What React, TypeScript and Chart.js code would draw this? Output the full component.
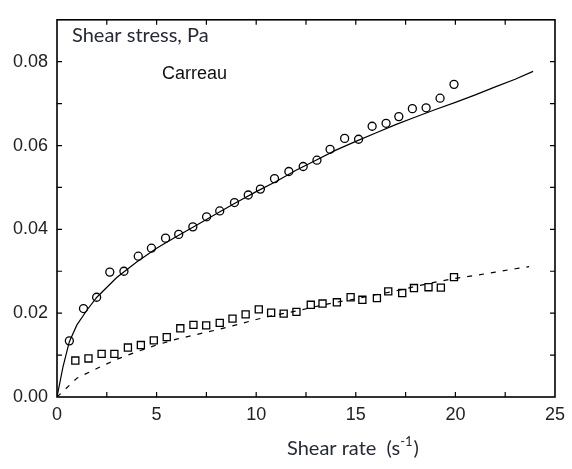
import React, { useEffect, useRef } from 'react';
import { Chart, registerables } from 'chart.js';

Chart.register(...registerables);

// Measured shear stress (circles)
const circleX = [0.62, 1.33, 1.99, 2.65, 3.36, 4.08, 4.74, 5.45, 6.11, 6.82, 7.51, 8.17, 8.91, 9.6, 10.21, 10.92, 11.64, 12.36, 13.05, 13.71, 14.44, 15.14, 15.82, 16.52, 17.16, 17.84, 18.53, 19.23, 19.93];
const circleY = [0.0134, 0.0211, 0.0238, 0.0298, 0.03, 0.0336, 0.0355, 0.0379, 0.0388, 0.0406, 0.043, 0.0444, 0.0464, 0.0482, 0.0496, 0.0521, 0.0538, 0.055, 0.0565, 0.0591, 0.0617, 0.0615, 0.0646, 0.0653, 0.0669, 0.0688, 0.069, 0.0713, 0.0746];

// Measured shear stress (squares)
const squareX = [0.92, 1.58, 2.24, 2.88, 3.56, 4.21, 4.86, 5.51, 6.19, 6.85, 7.49, 8.17, 8.81, 9.47, 10.13, 10.75, 11.38, 12.02, 12.74, 13.33, 14.05, 14.74, 15.33, 16.06, 16.63, 17.33, 17.92, 18.65, 19.27, 19.93];
const squareY = [0.0087, 0.0092, 0.0103, 0.0103, 0.0118, 0.0124, 0.0135, 0.0143, 0.0164, 0.0172, 0.0171, 0.0177, 0.0187, 0.0197, 0.0209, 0.0201, 0.0199, 0.0203, 0.022, 0.0223, 0.0226, 0.0238, 0.0232, 0.0236, 0.0252, 0.0248, 0.026, 0.0262, 0.0261, 0.0286];

// Carreau fit (solid line)
const carreauX = [0, 0.3, 0.62, 1, 1.5, 2, 3, 4, 5, 6, 7, 8, 9, 10, 11, 12, 13, 14, 15, 16, 17, 18, 19, 20, 21, 22, 23, 23.9];
const carreauY = [0, 0.0072, 0.0132, 0.0172, 0.0207, 0.0238, 0.0285, 0.0322, 0.0355, 0.0383, 0.041, 0.0437, 0.0464, 0.049, 0.0514, 0.0541, 0.0565, 0.0589, 0.061, 0.063, 0.065, 0.0668, 0.0686, 0.0703, 0.0721, 0.074, 0.0758, 0.0777];

// Carreau fit (dashed line)
const dashedX = [0, 1, 2, 3, 4, 5, 6, 7, 8, 9, 10, 11, 12, 13, 14, 15, 16, 17, 18, 19, 20, 21, 22, 23, 23.7];
const dashedY = [0, 0.0045, 0.0068, 0.009, 0.0108, 0.0124, 0.0138, 0.0149, 0.016, 0.0172, 0.0185, 0.0196, 0.0205, 0.0216, 0.0226, 0.0234, 0.0244, 0.0253, 0.0264, 0.0274, 0.0283, 0.029, 0.0298, 0.0306, 0.0311];

// Axes
const xLabelValues = [0, 5, 10, 15, 20, 25];
const yLabelValues = [0, 0.02, 0.04, 0.06, 0.08];
const xMarkValues = [2.5, 5, 7.5, 10, 12.5, 15, 17.5, 20, 22.5];
const yMarkValues = [0.01, 0.02, 0.03, 0.04, 0.05, 0.06, 0.07, 0.08];
const xMin = 0, xMax = 25, yMin = 0, yMax = 0.09;

const yAxisText = 'Shear stress, Pa';
const modelText = 'Carreau';
const xAxisMain = 'Shear rate  (s';
const xAxisSup = '-1';
const xAxisClose = ')';

const zip = (xs: number[], ys: number[]) => xs.map((x, i) => ({ x, y: ys[i] }));

const framePlugin = {
  id: 'frame',
  afterDraw(chart: any) {
    const { ctx, chartArea: a, scales } = chart;
    const sx = scales.x, sy = scales.y;
    ctx.save();
    ctx.strokeStyle = '#000';
    ctx.lineWidth = 1.6;
    ctx.strokeRect(a.left, a.top, a.right - a.left, a.bottom - a.top);
    ctx.lineWidth = 1.2;
    ctx.beginPath();
    const L = 5;
    for (const v of xMarkValues) {
      const px = sx.getPixelForValue(v);
      ctx.moveTo(px, a.bottom); ctx.lineTo(px, a.bottom - L);
      ctx.moveTo(px, a.top); ctx.lineTo(px, a.top + L);
    }
    for (const v of yMarkValues) {
      const py = sy.getPixelForValue(v);
      ctx.moveTo(a.left, py); ctx.lineTo(a.left + L, py);
      ctx.moveTo(a.right, py); ctx.lineTo(a.right - L, py);
    }
    ctx.stroke();

    const labelColor = '#262a38';
    ctx.textBaseline = 'alphabetic';
    ctx.textAlign = 'left';
    ctx.fillStyle = labelColor;
    ctx.font = '20px Lato';
    ctx.fillText(yAxisText, 72, 42);

    ctx.fillStyle = '#111';
    ctx.font = '18px "Liberation Sans"';
    ctx.fillText(modelText, 162, 79);

    ctx.fillStyle = labelColor;
    const x0 = 287, base = 455;
    ctx.font = '20px Lato';
    ctx.fillText(xAxisMain, x0, base);
    let w = ctx.measureText(xAxisMain).width;
    ctx.font = '13px Lato';
    ctx.fillText(xAxisSup, x0 + w, base - 9);
    w += ctx.measureText(xAxisSup).width;
    ctx.font = '20px Lato';
    ctx.fillText(xAxisClose, x0 + w + 1, base);
    ctx.restore();
  },
};

export default function App() {
  const ref = useRef<HTMLCanvasElement | null>(null);

  useEffect(() => {
    if (!ref.current) return;
    const tickFont = { family: '"Liberation Sans", Arial, sans-serif', size: 18 };
    const chart = new Chart(ref.current, {
      type: 'scatter',
      data: {
        datasets: [
          {
            label: 'Carreau',
            data: zip(carreauX, carreauY),
            showLine: true,
            borderColor: '#000',
            borderWidth: 1.2,
            pointRadius: 0,
            fill: false,
          },
          {
            label: 'Carreau 2',
            data: zip(dashedX, dashedY),
            showLine: true,
            borderColor: '#000',
            borderWidth: 1.2,
            borderDash: [5, 7],
            pointRadius: 0,
            fill: false,
          },
          {
            label: 'Circles',
            data: zip(circleX, circleY),
            pointStyle: 'circle',
            pointRadius: 4,
            borderColor: '#000',
            borderWidth: 1.3,
            backgroundColor: 'rgba(0,0,0,0)',
          },
          {
            label: 'Squares',
            data: zip(squareX, squareY),
            pointStyle: 'rect',
            pointRadius: 5,
            borderColor: '#000',
            borderWidth: 1.3,
            backgroundColor: 'rgba(0,0,0,0)',
          },
        ],
      },
      options: {
        responsive: false,
        animation: false,
        events: [],
        layout: { padding: { top: 11, right: 9, left: 0, bottom: 0 } },
        plugins: { legend: { display: false }, tooltip: { enabled: false } },
        scales: {
          x: {
            type: 'linear',
            min: xMin,
            max: xMax,
            grid: { display: false, drawTicks: false },
            border: { display: false },
            ticks: {
              padding: 7,
              font: tickFont,
              color: '#222',
              maxRotation: 0,
              autoSkip: false,
              callback: (v: any) => String(v),
            },
            afterBuildTicks: (s: any) => { s.ticks = xLabelValues.map((v) => ({ value: v })); },
            afterFit: (s: any) => { s.height = 72; },
          },
          y: {
            type: 'linear',
            min: yMin,
            max: yMax,
            grid: { display: false, drawTicks: false },
            border: { display: false },
            ticks: {
              padding: 9,
              font: tickFont,
              color: '#222',
              autoSkip: false,
              callback: (v: any) => Number(v).toFixed(2),
            },
            afterBuildTicks: (s: any) => { s.ticks = yLabelValues.map((v) => ({ value: v })); },
            afterFit: (s: any) => { s.width = 57; },
          },
        },
      },
      plugins: [framePlugin],
    });
    return () => chart.destroy();
  }, []);

  return (
    <div style={{ position: 'fixed', left: 0, top: 0, width: 572, height: 469, background: '#fff' }}>
      <canvas ref={ref} width={572} height={469} />
    </div>
  );
}
